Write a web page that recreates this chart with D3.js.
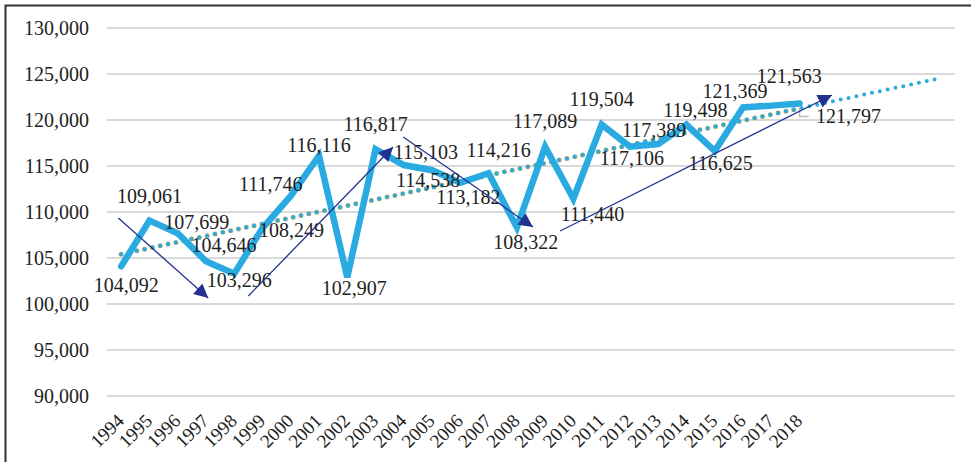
<!DOCTYPE html>
<html>
<head>
<meta charset="utf-8">
<script src="https://cdn.jsdelivr.net/npm/d3@7/dist/d3.min.js"></script>
<style>
  html, body { margin: 0; padding: 0; background: #ffffff; }
  svg { display: block; }
  text { font-family: "Liberation Serif", "LiberationSerif", Tinos, "Times New Roman", Times, "Nimbus Roman", "DejaVu Serif", serif; fill: #222222; }
</style>
</head>
<body>
<svg id="chart" width="971" height="462"></svg>
<script>
// ---------- DATA ----------
const years = ["1994","1995","1996","1997","1998","1999","2000","2001","2002","2003","2004","2005","2006",
               "2007","2008","2009","2010","2011","2012","2013","2014","2015","2016","2017","2018"];
const values = [104092,109061,107699,104646,103296,108249,111746,116116,102907,116817,115103,114538,113182,
                114216,108322,117089,111440,119504,117106,117389,119498,116625,121369,121563,121797];
const yTicks = [90000,95000,100000,105000,110000,115000,120000,125000,130000];
const forecastPeriods = 5;
// annotation arrows as [categoryIndex, value] pairs (start -> end)
const arrowStarts = [[-0.1,109350],[4.5,100870],[9.98,118150],[15.53,107935]];
const arrowEnds   = [[3.08,100650],[9.62,117065],[14.57,108370],[25.15,122717]];
// data label offsets (px) relative to each point
const labelDx = [5,0,19,18,5,29,-20,0,7,0,22,-4,8,10,9,0,19,0,2,-4,9,6,-8,18,49];
const labelDy = [19,-25,-11,-16,6,2,-12,-11,11,-25,-13,10,14,-23,15,-26,15,-26,11,-14,-15,12,-16,-30,13];

const FONT = '"Liberation Serif", "LiberationSerif", Tinos, "Times New Roman", Times, "Nimbus Roman", "DejaVu Serif", serif';

// ---------- LAYOUT ----------
const svg = d3.select("#chart");
const nCats = years.length + forecastPeriods;
const catIdx = d3.range(nCats);
const x = d3.scaleBand().domain(catIdx).range([107, 955]).padding(0);
const cx = i => x.bandwidth() * (i + 0.5) + 107;
const y = d3.scaleLinear().domain([90000, 130000]).range([396, 28]);

// border
svg.append("path")
  .attr("d", "M5.5,462 L5.5,5.5 L971,5.5")
  .attr("fill", "none").attr("stroke", "#333").attr("stroke-width", 2);

// gridlines
svg.append("g").selectAll("line").data(yTicks).join("line")
  .attr("x1", 107).attr("x2", 955)
  .attr("y1", d => y(d)).attr("y2", d => y(d))
  .attr("stroke", "#d9d9d9").attr("stroke-width", 2);

// y axis labels
const yAxis = d3.axisLeft(y).tickValues(yTicks).tickFormat(d3.format(",")).tickSize(0).tickPadding(0);
const gy = svg.append("g").attr("transform", "translate(89,0)").call(yAxis);
gy.attr("font-family", FONT).attr("font-size", 20);
gy.select(".domain").remove();
gy.selectAll("text").attr("fill", "#222");

// x axis labels (only data years)
const xAxis = d3.axisBottom(x).tickValues(d3.range(years.length)).tickFormat(i => years[i]).tickSize(0).tickPadding(0);
const gx = svg.append("g").call(xAxis);
gx.attr("font-family", FONT).attr("font-size", 19);
gx.select(".domain").remove();
gx.selectAll(".tick text")
  .attr("fill", "#222")
  .attr("text-anchor", "end")
  .attr("y", 0).attr("dy", 0)
  .attr("transform", "translate(4,422) rotate(-45)");

// trendline (least squares fit, extended forward)
const xs = d3.range(years.length);
const mx = d3.mean(xs), my = d3.mean(values);
const slope = d3.sum(xs, i => (i - mx) * (values[i] - my)) / d3.sum(xs, i => (i - mx) * (i - mx));
const icpt = my - slope * mx;
const trendLine = d3.line().x(i => cx(i)).y(i => y(icpt + slope * i));
svg.append("path")
  .attr("d", trendLine([0, years.length - 1]))
  .attr("fill", "none").attr("stroke", "#b8b060").attr("stroke-width", 5)
  .attr("stroke-linecap", "round").attr("stroke-dasharray", "0,8");
svg.append("path")
  .attr("d", trendLine([0, nCats - 1]))
  .attr("fill", "none").attr("stroke", "#29abe2").attr("stroke-width", 4)
  .attr("stroke-linecap", "round").attr("stroke-dasharray", "0,8");

// main line
const line = d3.line().x((d, i) => cx(i)).y(d => y(d));
svg.append("path")
  .attr("d", line(values))
  .attr("fill", "none").attr("stroke", "#29abe2").attr("stroke-width", 6.5)
  .attr("stroke-linejoin", "miter").attr("stroke-linecap", "round");

// leader line for last label
const li = years.length - 1;
svg.append("path")
  .attr("d", `M${cx(li)},${y(values[li]) + 3} V${y(values[li]) + 13} H${cx(li) + 9}`)
  .attr("fill", "none").attr("stroke", "#bfbfbf").attr("stroke-width", 1.5);

// data labels
svg.append("g").attr("font-family", FONT).attr("font-size", 20)
  .selectAll("text").data(values).join("text")
  .attr("x", (d, i) => cx(i) + labelDx[i])
  .attr("y", (d, i) => y(d) + labelDy[i])
  .attr("dy", "0.35em")
  .attr("text-anchor", "middle")
  .attr("fill", "#222")
  .text(d => d3.format(",")(d));

// arrows
svg.append("defs").append("marker")
  .attr("id", "ah").attr("viewBox", "0 0 10 10").attr("refX", 10).attr("refY", 5)
  .attr("markerWidth", 16).attr("markerHeight", 14).attr("markerUnits", "userSpaceOnUse")
  .attr("orient", "auto")
  .append("path").attr("d", "M0,0 L10,5 L0,10 Z").attr("fill", "#24318f");
svg.append("g").selectAll("line").data(arrowStarts).join("line")
  .attr("x1", d => cx(d[0])).attr("y1", d => y(d[1]))
  .attr("x2", (d, i) => cx(arrowEnds[i][0])).attr("y2", (d, i) => y(arrowEnds[i][1]))
  .attr("stroke", "#24318f").attr("stroke-width", 1.3)
  .attr("marker-end", "url(#ah)");
</script>
</body>
</html>
